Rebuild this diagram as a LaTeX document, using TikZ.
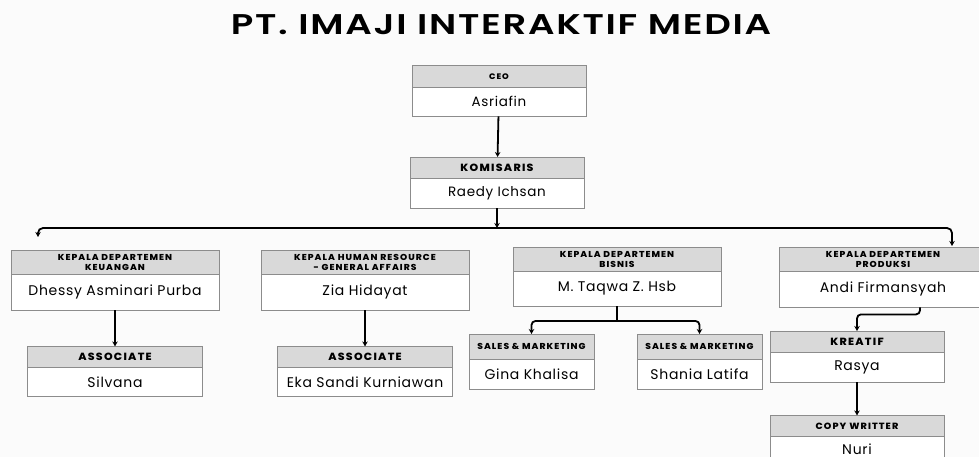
\documentclass[tikz,border=0pt]{standalone}
\usepackage{fontspec}
\setmainfont{Poppins}[LetterSpace=5]
\newfontfamily\headfont{Poppins ExtraBold}[LetterSpace=12, FakeStretch=1.06]
\newfontfamily\titlefont{Poppins SemiBold}[LetterSpace=6, FakeStretch=1.3]
\usetikzlibrary{shapes.multipart, arrows.meta, positioning}

\definecolor{headgray}{HTML}{D9D9D9}
\definecolor{boxgray}{HTML}{8C8C8C}
\definecolor{paper}{HTML}{FBFBFB}

% header and name fonts
\newcommand{\bighead}{\headfont\fontsize{10.4}{11}\selectfont}
\newcommand{\smallhead}{\headfont\fontsize{8.6}{10}\selectfont}
\newcommand{\bigname}{\fontsize{14}{16}\selectfont}
\newcommand{\midname}{\fontsize{13.5}{15}\selectfont}
% width, header height, header, body height, name
\newcommand{\card}[5]{\parbox[c][#2][c]{#1}{\centering #3}\nodepart{two}\parbox[c][#4][c]{#1}{\centering #5}}

\begin{document}
\begin{tikzpicture}[x=1pt, y=-1pt,
  orgbox/.style={rectangle split, rectangle split parts=2, draw=boxgray, line width=0.8pt,
    rectangle split part fill={headgray,white}, inner sep=0pt, anchor=north},
  arrow/.style={line width=1.8pt, ->, >={Stealth[length=5pt,width=5.5pt]}}
]
  \fill[paper] (0,0) rectangle (979,457);
  \clip (0,0) rectangle (979,457);

  \node[font=\titlefont\fontsize{28.5}{30}\selectfont, anchor=base] (title) at (501,35) {PT. IMAJI INTERAKTIF MEDIA};

  \node[orgbox] (ceo) at (499,65) {\card{174pt}{21pt}{\headfont\fontsize{8}{9}\selectfont CEO}{28pt}{\midname Asriafin}};
  \node[orgbox] (kom) at (497,157) {\card{174pt}{20pt}{\bighead KOMISARIS}{29pt}{\midname Raedy Ichsan}};

  \node[orgbox] (keu) at (115,250) {\card{208pt}{23pt}{\smallhead KEPALA DEPARTEMEN\\KEUANGAN}{35pt}{\bigname Dhessy Asminari Purba}};
  \node[orgbox] (hr) at (365,250) {\card{208pt}{23pt}{\smallhead KEPALA HUMAN RESOURCE\\- GENERAL AFFAIRS}{35pt}{\bigname Zia Hidayat}};
  \node[orgbox] (bis) at (617,247) {\card{208pt}{23pt}{\smallhead KEPALA DEPARTEMEN\\BISNIS}{34pt}{\bigname M. Taqwa Z. Hsb}};
  \node[orgbox] (pro) at (883,247) {\card{208pt}{23pt}{\smallhead KEPALA DEPARTEMEN\\PRODUKSI}{35pt}{\bigname Andi Firmansyah}};

  \node[orgbox, below=36pt of keu] (asso1) {\card{175pt}{20pt}{\bighead ASSOCIATE}{28pt}{\bigname Silvana}};
  \node[orgbox, below=36pt of hr] (asso2) {\card{175pt}{20pt}{\bighead ASSOCIATE}{28pt}{\bigname Eka Sandi Kurniawan}};
  \node[orgbox] (sales1) at (531.5,334) {\card{125pt}{24pt}{\smallhead SALES \& MARKETING}{29pt}{\bigname Gina Khalisa}};
  \node[orgbox] (sales2) at (699.5,334) {\card{125pt}{24pt}{\smallhead SALES \& MARKETING}{29pt}{\bigname Shania Latifa}};
  \node[orgbox] (kre) at (857,331) {\card{174pt}{20pt}{\bighead KREATIF}{29pt}{\bigname Rasya}};
  \node[orgbox, below=33pt of kre] (copy) {\card{174pt}{20pt}{\headfont\fontsize{9}{10}\selectfont COPY WRITTER}{24pt}{\bigname Nuri}};

  \coordinate (bus) at (497,228);
  \coordinate (keuin) at (38,237);
  \coordinate (proin) at (952,246);
  \coordinate (bisfork) at (617,321);

  \draw [arrow] (ceo) -- (kom);
  \draw [arrow] (kom) -- (bus);
  \draw [arrow, <->, rounded corners=5pt] (keuin) |- (bus) -| (proin);
  \draw [arrow] (keu) -- (asso1);
  \draw [arrow] (hr) -- (asso2);
  \draw [line width=1.8pt] (bis) -- (bisfork);
  \draw [arrow, <->, rounded corners=4pt] (sales1) |- (bisfork) -| (sales2);
  \draw [arrow, rounded corners=4pt] ([xshift=37pt]pro.south) -- ++(0,7) -| (kre);
  \draw [arrow] (kre) -- (copy);
\end{tikzpicture}
\end{document}
